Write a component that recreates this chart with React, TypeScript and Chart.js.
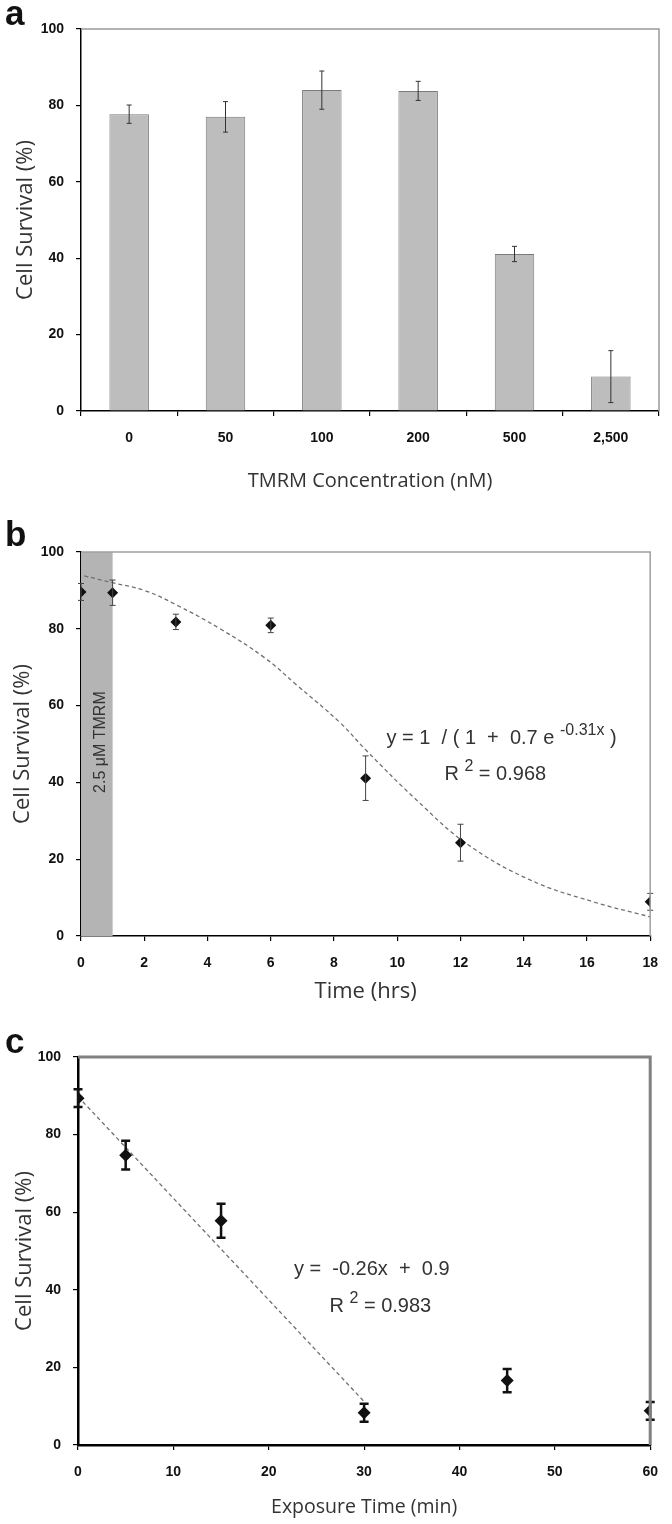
import React, { useEffect, useRef } from "react";
import { Chart, registerables } from "chart.js";

Chart.register(...registerables);

// ---------- Panel a data ----------
const concentrationLabels = ["0", "50", "100", "200", "500", "2,500"];
const survivalA = [77.7, 77.0, 84.0, 83.8, 41.1, 9.0];
const errorA = [2.4, 4.0, 5.0, 2.5, 2.0, 6.8];

// ---------- Panel b data ----------
const timeB = [0, 1, 3, 6, 9, 12, 18];
const survivalB = [89.6, 89.4, 81.8, 80.9, 41.1, 24.3, 8.9];
const errorB = [2.2, 3.3, 2.0, 1.9, 5.8, 4.8, 2.2];
const fitTimeB = [0.1, 1, 2, 3, 4.4, 5.8, 6.8, 8.2, 9, 10.6, 12.2, 14.2, 16.2, 18];
const fitSurvivalB = [93.8, 92, 90, 86.3, 80, 72.5, 65.5, 55.5, 48.5, 35.5, 24, 14.6, 8.9, 5];

// ---------- Panel c data ----------
const exposureC = [0, 5, 15, 30, 45, 60];
const survivalC = [89.4, 74.7, 57.8, 8.3, 16.6, 8.8];
const errorC = [2.3, 3.7, 4.4, 2.3, 3.0, 2.3];
const fitExposureC = [0, 30];
const fitSurvivalC = [89.8, 11.2];

const TICK_FONT = { family: "'Liberation Sans Narrow', 'Liberation Sans', Arial, sans-serif", size: 14, weight: "bold" as const };
const TITLE_FAMILY = "'Open Sans', 'Noto Sans', sans-serif";
const NOTE_FAMILY = "'Liberation Sans Narrow', 'Liberation Sans', Arial, sans-serif";

type Part = { text: string; sup?: boolean };
type Note = { x: number; y: number; parts: Part[]; size: number };

const decorPlugin = {
  id: "decor",
  beforeDatasetsDraw(chart: any, _args: any, opts: any) {
    const { ctx, chartArea } = chart;
    const xs = chart.scales.x;
    if (opts.band) {
      const x0 = xs.getPixelForValue(opts.band.from);
      const x1 = xs.getPixelForValue(opts.band.to);
      ctx.save();
      ctx.fillStyle = opts.band.color;
      ctx.fillRect(x0, chartArea.top, x1 - x0, chartArea.bottom - chartArea.top);
      ctx.translate(xs.getPixelForValue(opts.band.textX), chart.scales.y.getPixelForValue(opts.band.textY));
      ctx.rotate(-Math.PI / 2);
      ctx.fillStyle = "#333";
      ctx.font = `16px ${NOTE_FAMILY}`;
      ctx.textAlign = "center";
      ctx.textBaseline = "middle";
      ctx.fillText(opts.band.text, 0, 0);
      ctx.restore();
    }
  },
  afterDatasetsDraw(chart: any, _args: any, opts: any) {
    const { ctx, chartArea } = chart;
    const ys = chart.scales.y;
    const xs = chart.scales.x;
    if (opts.errors) {
      const meta = chart.getDatasetMeta(0);
      const vals = chart.data.datasets[0].data;
      ctx.save();
      ctx.strokeStyle = opts.errorColor;
      ctx.lineWidth = opts.errorWidth;
      meta.data.forEach((el: any, i: number) => {
        const v = typeof vals[i] === "number" ? vals[i] : vals[i].y;
        const e = opts.errors[i];
        const x = el.x;
        const yt = ys.getPixelForValue(v + e);
        const yb = ys.getPixelForValue(v - e);
        ctx.beginPath();
        ctx.moveTo(x, yt);
        ctx.lineTo(x, yb);
        ctx.moveTo(x - opts.cap, yt);
        ctx.lineTo(x + opts.cap, yt);
        ctx.moveTo(x - opts.cap, yb);
        ctx.lineTo(x + opts.cap, yb);
        ctx.stroke();
      });
      ctx.restore();
    }
    ctx.save();
    ctx.strokeStyle = opts.frameColor;
    ctx.lineWidth = opts.frameWidth;
    ctx.beginPath();
    ctx.moveTo(chartArea.left, chartArea.top);
    ctx.lineTo(chartArea.right, chartArea.top);
    ctx.lineTo(chartArea.right, chartArea.bottom);
    ctx.stroke();
    ctx.restore();
    (opts.notes || []).forEach((n: Note) => {
      ctx.save();
      ctx.fillStyle = "#333";
      ctx.textBaseline = "alphabetic";
      const base = `${n.size}px ${NOTE_FAMILY}`;
      const sup = `${Math.round(n.size * 0.78)}px ${NOTE_FAMILY}`;
      let total = 0;
      n.parts.forEach((p) => {
        ctx.font = p.sup ? sup : base;
        total += ctx.measureText(p.text).width;
      });
      let cx = xs.getPixelForValue(n.x) - total / 2;
      const cy = ys.getPixelForValue(n.y) + n.size * 0.36;
      n.parts.forEach((p) => {
        ctx.font = p.sup ? sup : base;
        ctx.fillText(p.text, cx, p.sup ? cy - n.size * 0.45 : cy);
        cx += ctx.measureText(p.text).width;
      });
      ctx.restore();
    });
    if (opts.letter) {
      ctx.save();
      ctx.fillStyle = "#111";
      ctx.font = `900 35px 'Liberation Sans', Arial, sans-serif`;
      ctx.textBaseline = "alphabetic";
      ctx.textAlign = "left";
      ctx.fillText(opts.letter.text, opts.letter.x, opts.letter.y);
      ctx.restore();
    }
  },
};

function makeScales(o: {
  xType: string;
  xMin?: number;
  xMax?: number;
  xStep?: number;
  left: number;
  bottomHeight: number;
  xTitle: string;
  xTitleSize: number;
  xTitlePad: number;
  yTitlePad: number;
  axisWidth: number;
}) {
  const x: any = {
    type: o.xType,
    border: { color: "#000", width: o.axisWidth },
    grid: { display: true, drawOnChartArea: false, drawTicks: true, tickLength: 5, color: "#000", lineWidth: 1.2 },
    ticks: { font: TICK_FONT, color: "#111", padding: 14, maxRotation: 0, autoSkip: false },
    title: { display: true, text: o.xTitle, color: "#333", font: { family: TITLE_FAMILY, size: o.xTitleSize }, padding: { top: 0, bottom: o.xTitlePad } },
    afterFit(scale: any) {
      scale.height = o.bottomHeight;
    },
  };
  if (o.xType === "linear") {
    x.min = o.xMin;
    x.max = o.xMax;
    x.ticks.stepSize = o.xStep;
  }
  const y: any = {
    type: "linear",
    min: 0,
    max: 100,
    border: { color: "#000", width: o.axisWidth },
    grid: { display: true, drawOnChartArea: false, drawTicks: true, tickLength: 5, color: "#000", lineWidth: 1.2 },
    ticks: { font: TICK_FONT, color: "#111", padding: 12, stepSize: 20 },
    title: { display: true, text: "Cell Survival (%)", color: "#333", font: { family: TITLE_FAMILY, size: 22 }, padding: { top: o.yTitlePad, bottom: 0 } },
    afterFit(scale: any) {
      scale.width = o.left;
    },
  };
  return { x, y };
}

function useChart(ref: React.RefObject<HTMLCanvasElement>, build: () => any) {
  useEffect(() => {
    if (!ref.current) return;
    const chart = new Chart(ref.current, build());
    return () => chart.destroy();
  }, []);
}

export default function App() {
  const refA = useRef<HTMLCanvasElement>(null);
  const refB = useRef<HTMLCanvasElement>(null);
  const refC = useRef<HTMLCanvasElement>(null);

  useChart(refA, () => ({
    type: "bar",
    data: {
      labels: concentrationLabels,
      datasets: [
        {
          data: survivalA,
          backgroundColor: "#bdbdbd",
          borderColor: "#7a7a7a",
          borderWidth: 1,
          barPercentage: 0.41,
          categoryPercentage: 1,
        },
      ],
    },
    options: {
      animation: false,
      responsive: false,
      events: [],
      layout: { padding: { top: 29, right: 13, left: 0, bottom: 0 } },
      scales: makeScales({ xType: "category", left: 81, bottomHeight: 505 - 411, xTitle: "TMRM Concentration (nM)", xTitleSize: 20, xTitlePad: 12, yTitlePad: 13, axisWidth: 1.5 }),
      plugins: {
        legend: { display: false },
        tooltip: { enabled: false },
        decor: {
          errors: errorA,
          errorColor: "#333",
          errorWidth: 1,
          cap: 2.5,
          frameColor: "#9a9a9a",
          frameWidth: 1.5,
          letter: { text: "a", x: 5, y: 25 },
        },
      },
    },
    plugins: [decorPlugin],
  }));

  useChart(refB, () => ({
    type: "scatter",
    data: {
      datasets: [
        {
          data: timeB.map((t, i) => ({ x: t, y: survivalB[i] })),
          pointStyle: "rectRot",
          pointRadius: 5.5,
          backgroundColor: "#111",
          borderColor: "#111",
          borderWidth: 0,
          showLine: false,
        },
        {
          data: fitTimeB.map((t, i) => ({ x: t, y: fitSurvivalB[i] })),
          showLine: true,
          pointRadius: 0,
          borderColor: "#707070",
          borderWidth: 1.3,
          borderDash: [4, 3],
          tension: 0.4,
          fill: false,
        },
      ],
    },
    options: {
      animation: false,
      responsive: false,
      events: [],
      layout: { padding: { top: 47, right: 12, left: 0, bottom: 0 } },
      scales: makeScales({ xType: "linear", xMin: 0, xMax: 18, xStep: 2, left: 81, bottomHeight: 510 - 431, xTitle: "Time (hrs)", xTitleSize: 22, xTitlePad: 10, yTitlePad: 10, axisWidth: 1.5 }),
      plugins: {
        legend: { display: false },
        tooltip: { enabled: false },
        decor: {
          errors: errorB,
          errorColor: "#444",
          errorWidth: 1,
          cap: 3,
          frameColor: "#a0a0a0",
          frameWidth: 1.5,
          band: { from: 0, to: 1, color: "#b4b4b4", text: "2.5 \u03bcM TMRM", textX: 0.62, textY: 50.5 },
          notes: [
            { x: 13.3, y: 51.9, size: 20, parts: [{ text: "y = 1  / ( 1  +  0.7 e " }, { text: "-0.31x", sup: true }, { text: " )" }] },
            { x: 13.1, y: 42.5, size: 20, parts: [{ text: "R " }, { text: "2", sup: true }, { text: " = 0.968" }] },
          ],
          letter: { text: "b", x: 5, y: 41 },
        },
      },
    },
    plugins: [decorPlugin],
  }));

  useChart(refC, () => ({
    type: "scatter",
    data: {
      datasets: [
        {
          data: exposureC.map((t, i) => ({ x: t, y: survivalC[i] })),
          pointStyle: "rectRot",
          pointRadius: 6.5,
          backgroundColor: "#111",
          borderColor: "#111",
          borderWidth: 0,
          showLine: false,
        },
        {
          data: fitExposureC.map((t, i) => ({ x: t, y: fitSurvivalC[i] })),
          showLine: true,
          pointRadius: 0,
          borderColor: "#707070",
          borderWidth: 1.3,
          borderDash: [4, 3],
          fill: false,
        },
      ],
    },
    options: {
      animation: false,
      responsive: false,
      events: [],
      layout: { padding: { top: 42, right: 15, left: 0, bottom: 0 } },
      scales: makeScales({ xType: "linear", xMin: 0, xMax: 60, xStep: 10, left: 78, bottomHeight: 509 - 430, xTitle: "Exposure Time (min)", xTitleSize: 19.5, xTitlePad: 5, yTitlePad: 12, axisWidth: 2.5 }),
      plugins: {
        legend: { display: false },
        tooltip: { enabled: false },
        decor: {
          errors: errorC,
          errorColor: "#111",
          errorWidth: 2.5,
          cap: 4.5,
          frameColor: "#808080",
          frameWidth: 3,
          notes: [
            { x: 30.8, y: 45.6, size: 20, parts: [{ text: "y =  -0.26x  +  0.9" }] },
            { x: 31.7, y: 36.1, size: 20, parts: [{ text: "R " }, { text: "2", sup: true }, { text: " = 0.983" }] },
          ],
          letter: { text: "c", x: 5, y: 38 },
        },
      },
    },
    plugins: [decorPlugin],
  }));

  const box = (top: number, h: number): React.CSSProperties => ({ position: "absolute", left: 0, top, width: 672, height: h });

  return (
    <div style={{ position: "absolute", left: 0, top: 0, width: 672, height: 1524, background: "#fff" }}>
      <div style={box(0, 505)}>
        <canvas ref={refA} width={672} height={505} style={{ display: "block" }} />
      </div>
      <div style={box(505, 510)}>
        <canvas ref={refB} width={672} height={510} style={{ display: "block" }} />
      </div>
      <div style={box(1015, 509)}>
        <canvas ref={refC} width={672} height={509} style={{ display: "block" }} />
      </div>
    </div>
  );
}
